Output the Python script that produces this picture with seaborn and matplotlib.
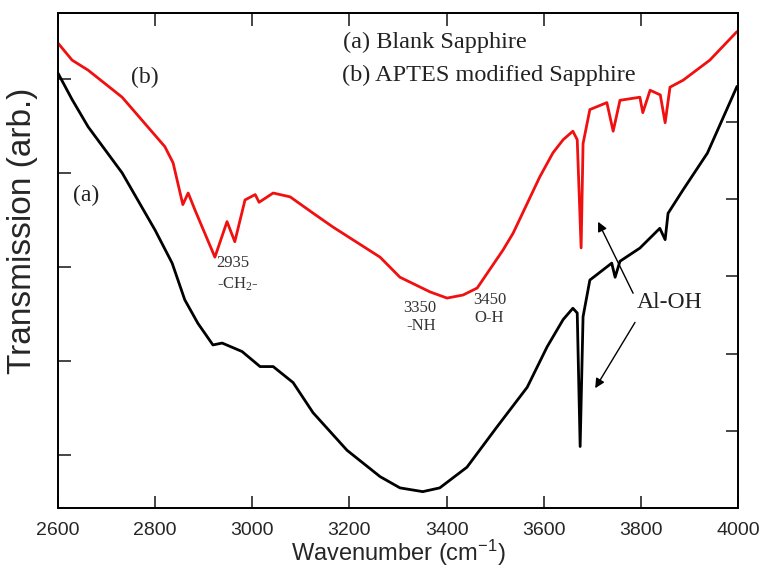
import matplotlib
matplotlib.use("Agg")
import matplotlib.pyplot as plt
import seaborn as sns
import numpy as np
import pandas as pd

# ---- data ----
wn_a = [2600, 2629, 2662, 2732, 2800, 2835, 2861, 2888, 2919, 2938, 2979, 3016, 3043,
        3084, 3125, 3195, 3263, 3304, 3351, 3386, 3442, 3504, 3566, 3607, 3640, 3660,
        3669, 3675, 3681, 3695, 3730, 3740, 3747, 3757, 3798, 3839, 3850, 3856, 3887,
        3937, 3998]
trans_a = [5.06, 4.78, 4.49, 4.00, 3.39, 3.04, 2.65, 2.40, 2.17, 2.19, 2.10, 1.94, 1.94,
           1.77, 1.45, 1.05, 0.77, 0.65, 0.61, 0.65, 0.87, 1.30, 1.72, 2.15, 2.44, 2.56,
           2.51, 1.09, 2.47, 2.86, 3.00, 3.04, 2.89, 3.06, 3.20, 3.41, 3.29, 3.57, 3.82,
           4.21, 4.92]

wn_b = [2600, 2629, 2662, 2732, 2820, 2837, 2857, 2868, 2882, 2923, 2948, 2964, 2985,
        3006, 3014, 3043, 3078, 3125, 3166, 3263, 3304, 3366, 3401, 3434, 3463, 3516,
        3537, 3592, 3619, 3640, 3660, 3669, 3677, 3681, 3695, 3730, 3743, 3757, 3798,
        3804, 3819, 3840, 3850, 3860, 3887, 3942, 3998]
trans_b = [6.02, 5.80, 5.67, 5.32, 4.68, 4.47, 3.93, 4.08, 3.86, 3.25, 3.71, 3.45, 3.99,
           4.06, 3.96, 4.08, 4.03, 3.82, 3.64, 3.25, 2.99, 2.80, 2.72, 2.76, 2.85, 3.34,
           3.56, 4.29, 4.60, 4.77, 4.88, 4.77, 3.37, 4.72, 5.16, 5.25, 4.88, 5.28, 5.32,
           5.12, 5.41, 5.35, 4.99, 5.45, 5.54, 5.80, 6.17]

x_ticks = [2600, 2800, 3000, 3200, 3400, 3600, 3800, 4000]
left_ticks = [1, 2, 3, 4, 5]
right_ticks = [1, 2, 3, 4, 5]

legend_lines = ["(a) Blank Sapphire", "(b) APTES modified Sapphire"]

df_a = pd.DataFrame({"wn": wn_a, "t": trans_a})
df_b = pd.DataFrame({"wn": wn_b, "t": trans_b})

sns.set_style("ticks")
plt.rcParams["font.family"] = ["Liberation Sans", "DejaVu Sans"]

fig = plt.figure(figsize=(7.61, 5.68), dpi=100)
ax = fig.add_axes([58 / 761, 1 - 508 / 568, (738 - 58) / 761, (508 - 13) / 568])
ax2 = ax.twinx()

sns.lineplot(data=df_a, x="wn", y="t", ax=ax, color="black", lw=2.0, estimator=None, sort=False)
sns.lineplot(data=df_b, x="wn", y="t", ax=ax2, color="#f01010", lw=2.0, estimator=None, sort=False)

ax.set_xlim(2600, 4000)
ax.set_ylim(0.436, 5.70)
ax2.set_ylim(0.003, 6.41)

ax.set_xticks(x_ticks)
ax.set_xticklabels([str(v) for v in x_ticks], fontsize=14)
ax.set_yticks(left_ticks)
ax.set_yticklabels([])
ax2.set_yticks(right_ticks)
ax2.set_yticklabels([])

ax.tick_params(axis="x", direction="in", length=9, width=1.2, top=True, bottom=True, pad=10)
ax.tick_params(axis="y", direction="in", length=9, width=1.2, left=True, right=False)
ax2.tick_params(axis="y", direction="in", length=9, width=1.2, right=True, left=False)

for a in (ax, ax2):
    for s in a.spines.values():
        s.set_linewidth(1.3)
        s.set_color("black")
        s.set_visible(True)

ax2.set_ylabel("")
ax.set_xlabel("Wavenumber (cm$\\mathregular{^{-1}}$)", fontsize=17, labelpad=-1)
ax.set_ylabel("Transmission (arb.)", fontsize=24)
ax.yaxis.set_label_coords(-0.030, 0.56)

serif = ["Liberation Serif", "DejaVu Serif"]
ax.text(3187, 5.39, legend_lines[0], fontsize=17.5, family=serif, ha="left", va="center", color="#222222")
ax.text(3185, 5.04, legend_lines[1], fontsize=17.5, family=serif, ha="left", va="center", color="#222222")
ax.text(2779, 5.01, "(b)", fontsize=17, family=serif, ha="center", va="center", color="#222222")
ax.text(2658, 3.76, "(a)", fontsize=17, family=serif, ha="center", va="center", color="#222222")

small = dict(fontsize=12, family=serif, ha="center", va="center", color="#333333")
ax.text(2960, 3.04, "2935", **small)
ax.text(2971, 2.81, "-CH$\\mathregular{_2}$-", **small)
ax.text(3345, 2.56, "3350", **small)
ax.text(3347, 2.37, "-NH", **small)
ax.text(3489, 2.65, "3450", **small)
ax.text(3487, 2.46, "O-H", **small)

ax.text(3860, 2.62, "Al-OH", fontsize=17, family=serif, ha="center", va="center", color="#222222")
arrow = dict(arrowstyle="-|>", color="black", lw=1.0, mutation_scale=14, shrinkA=0, shrinkB=0)
ax.annotate("", xy=(3712, 3.48), xytext=(3784, 2.72), arrowprops=arrow)
ax.annotate("", xy=(3706, 1.71), xytext=(3788, 2.41), arrowprops=arrow)

fig.savefig("out.png", dpi=100)
